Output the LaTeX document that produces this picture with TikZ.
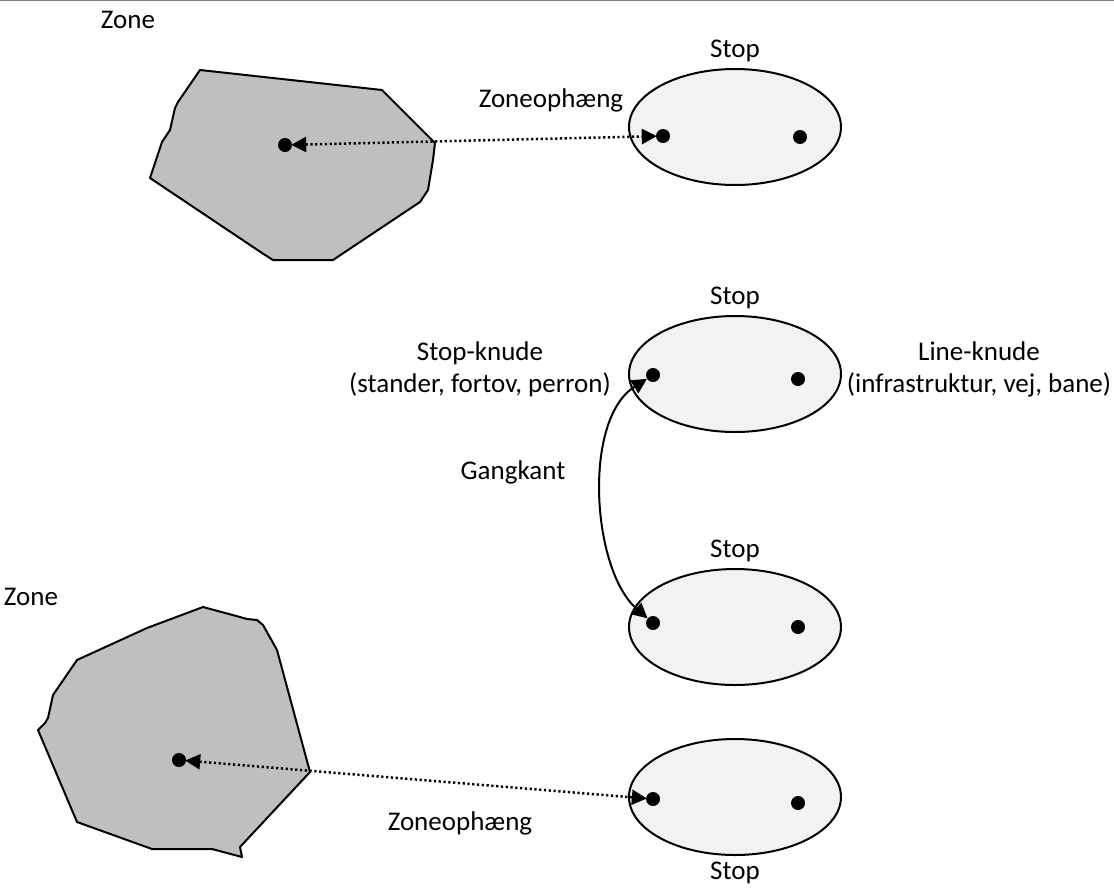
\documentclass[tikz,border=0pt]{standalone}
\usepackage{fontspec}
\setmainfont{Carlito}
\usetikzlibrary{positioning, shapes.geometric, arrows.meta}

\tikzset{
  stopnode/.style={draw, ellipse, line width=2pt, fill=gray!10, minimum width=212pt, minimum height=116pt, inner sep=0pt},
  knude/.style={circle, fill=black, inner sep=0pt, minimum size=14pt},
  zonearea/.style={draw, line width=2pt, fill=gray!50, line join=round},
  lbl/.style={font=\fontsize{27}{32}\selectfont, align=center, inner sep=0pt},
  haeng/.style={line width=2.5pt, dash pattern=on 2.2pt off 2.6pt, {Triangle[length=15pt,width=15pt]}-{Triangle[length=15pt,width=15pt]}, shorten <=-1pt, shorten >=-1pt},
  gang/.style={line width=2pt, {Triangle[length=15pt,width=15pt]}-{Triangle[length=15pt,width=15pt]}}
}

\begin{document}
\begin{tikzpicture}[x=1pt, y=-1pt, node distance=6pt]
        \useasboundingbox (0,0) rectangle (1114,887);
        \draw[gray, line width=1.5pt] (0,0.5) -- (1114,0.5);

        % zoner
        \draw[zonearea] (200,70) -- (382,90) -- (435,143) -- (433,160) -- (428,190) -- (420,202)
            -- (333,260) -- (273,260) -- (262,253) -- (150,178) -- (162,142) -- (170,130)
            -- (175,108) -- (178,102) -- cycle;
        \draw[zonearea] (203,607) -- (240,617) -- (247,619) -- (257,620) -- (263,625) -- (277,650)
            -- (310,772) -- (240,847) -- (242,857) -- (212,849) -- (152,849) -- (77,822)
            -- (38,730) -- (45,723) -- (48,718) -- (53,695) -- (77,660) -- (147,628) -- cycle;
        \node[lbl] (zoneA) at (128,20)  {Zone};
        \node[lbl] (zoneB) at (31,597)  {Zone};
        \node[knude] (zdotA) at (285,145) {};
        \node[knude] (zdotB) at (179,760) {};

        % stops
        \node[stopnode] (stopA) at (735,127) {};
        \node[stopnode] (stopB) at (735,374) {};
        \node[stopnode] (stopC) at (735,627) {};
        \node[stopnode] (stopD) at (735,797) {};
        \node[lbl, above=of stopA] (lblA) {Stop};
        \node[lbl, above=of stopB] (lblB) {Stop};
        \node[lbl, above=of stopC] (lblC) {Stop};
        \node[lbl, below=of stopD] (lblD) {Stop};

        \node[knude] (dotA1) at (663,136) {};
        \node[knude] (dotA2) at (800,137) {};
        \node[knude] (dotB1) at (653,375) {};
        \node[knude] (dotB2) at (798,379) {};
        \node[knude] (dotC1) at (653,623) {};
        \node[knude] (dotC2) at (798,627) {};
        \node[knude] (dotD1) at (653,799) {};
        \node[knude] (dotD2) at (798,803) {};

        \node[lbl] (stopknude) at (480,369) {Stop-knude\\(stander, fortov, perron)};
        \node[lbl] (lineknude) at (979,369) {Line-knude\\(infrastruktur, vej, bane)};
        \node[lbl] (gangkant)  at (513,472) {Gangkant};
        \node[lbl] (haengA)    at (551,100) {Zoneophæng};
        \node[lbl] (haengB)    at (460,823) {Zoneophæng};

        \draw[haeng] (zdotA) -- (dotA1);
        \draw[haeng] (zdotB) -- (dotD1);
        \draw[gang] (dotC1) .. controls (592,570) and (582,420) .. (dotB1);
      \end{tikzpicture}
\end{document}
